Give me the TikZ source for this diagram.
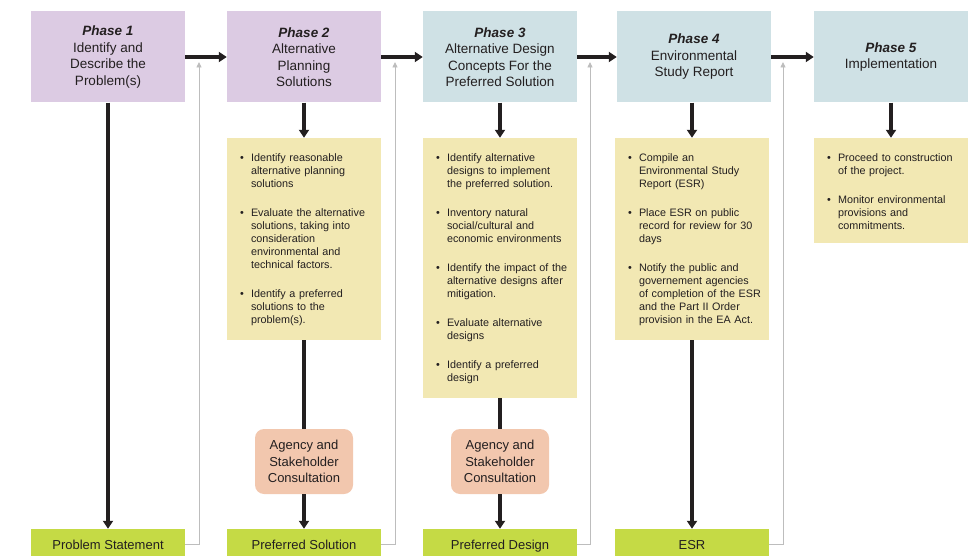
\documentclass[tikz,border=0pt]{standalone}
\usepackage{fontspec}
\setmainfont{Liberation Sans}
\usetikzlibrary{arrows.meta}
\definecolor{phaseLilac}{HTML}{DCCBE3}
\definecolor{phaseBlue}{HTML}{CFE1E5}
\definecolor{noteYellow}{HTML}{F2E8B3}
\definecolor{consultPeach}{HTML}{F2C7AE}
\definecolor{outputGreen}{HTML}{C5DA45}
\definecolor{flowInk}{HTML}{231F20}
\definecolor{loopGrey}{HTML}{BDBDBD}

\newenvironment{phaselist}{%
  \begin{list}{\textbullet}{%
    \setlength{\leftmargin}{12pt}\setlength{\labelsep}{7pt}%
    \setlength{\labelwidth}{5pt}\setlength{\itemsep}{16pt}%
    \setlength{\parsep}{0pt}\setlength{\topsep}{0pt}%
    \setlength{\partopsep}{0pt}\setlength{\itemindent}{0pt}}}%
  {\end{list}}

\tikzset{
  phasebox/.style={minimum width=154pt, minimum height=91pt, inner sep=0pt,
    align=center, text=flowInk, font=\fontsize{13.5}{16.5}\selectfont},
  notebox/.style={fill=noteYellow, minimum width=154pt, inner sep=0pt},
  listtext/.style={anchor=north west, inner sep=0pt, text width=134pt,
    text=flowInk, font=\fontsize{10.8}{13}\selectfont},
  consult/.style={fill=consultPeach, rounded corners=9pt, minimum width=98pt,
    minimum height=65pt, inner sep=0pt, align=center, text=flowInk,
    font=\fontsize{13}{16.5}\selectfont},
  outbox/.style={fill=outputGreen, minimum width=154pt, minimum height=30pt,
    inner sep=0pt, text height=11pt, text depth=1pt, text=flowInk,
    font=\fontsize{13}{15}\selectfont},
  flow/.style={draw=flowInk, line width=3.6pt, -{Triangle[length=8pt,width=10pt]}},
  flowline/.style={draw=flowInk, line width=3.6pt},
  loop/.style={draw=loopGrey, line width=0.9pt, -{Triangle[length=5.5pt,width=5pt]}}
}

\begin{document}
\begin{tikzpicture}[x=1pt,y=-1pt]
  \useasboundingbox (0,0) rectangle (974,556);
  % Phase headers
  \node[phasebox, fill=phaseLilac] (p1) at (108,57)
    {\textbf{\textit{Phase 1}}\\Identify and\\Describe the\\Problem(s)};
  \node[phasebox, fill=phaseLilac] (p2) at (304,57)
    {\textbf{\textit{Phase 2}}\\Alternative\\Planning\\Solutions};
  \node[phasebox, fill=phaseBlue] (p3) at (500,57)
    {\textbf{\textit{Phase 3}}\\Alternative Design\\Concepts For the\\Preferred Solution};
  \node[phasebox, fill=phaseBlue] (p4) at (694,57)
    {\textbf{\textit{Phase 4}}\\Environmental\\Study Report};
  \node[phasebox, fill=phaseBlue] (p5) at (891,57)
    {\textbf{\textit{Phase 5}}\\Implementation};

  % Task notes
  \node[notebox, minimum height=202pt] (n2) at (304,239) {};
  \node[listtext] at ([shift={(12,11)}]n2.north west) {\begin{phaselist}
    \item Identify reasonable\\alternative planning\\solutions
    \item Evaluate the alternative\\solutions, taking into\\consideration\\environmental and\\technical factors.
    \item Identify a preferred\\solutions to the\\problem(s).
  \end{phaselist}};
  \node[notebox, minimum height=260pt] (n3) at (500,268) {};
  \node[listtext] at ([shift={(12,11)}]n3.north west) {\begin{phaselist}
    \item Identify alternative\\designs to implement\\the preferred solution.
    \item Inventory natural\\social/cultural and\\economic environments
    \item Identify the impact of the\\alternative designs after\\mitigation.
    \item Evaluate alternative\\designs
    \item Identify a preferred\\design
  \end{phaselist}};
  \node[notebox, minimum height=202pt] (n4) at (692,239) {};
  \node[listtext] at ([shift={(12,11)}]n4.north west) {\begin{phaselist}
    \item Compile an\\Environmental Study\\Report (ESR)
    \item Place ESR on public\\record for review for 30\\days
    \item Notify the public and\\governement agencies\\of completion of the ESR\\and the Part II Order\\provision in the EA Act.
  \end{phaselist}};
  \node[notebox, minimum height=105pt] (n5) at (891,190.5) {};
  \node[listtext] at ([shift={(12,11)}]n5.north west) {\begin{phaselist}
    \item Proceed to construction\\of the project.
    \item Monitor environmental\\provisions and\\commitments.
  \end{phaselist}};

  % Consultation
  \node[consult] (c2) at (304,461.5) {Agency and\\Stakeholder\\Consultation};
  \node[consult] (c3) at (500,461.5) {Agency and\\Stakeholder\\Consultation};

  % Outputs
  \node[outbox] (o1) at (108,544) {Problem Statement};
  \node[outbox] (o2) at (304,544) {Preferred Solution};
  \node[outbox] (o3) at (500,544) {Preferred Design};
  \node[outbox] (o4) at (692,544) {ESR};

  % Main flow
  \draw[flow] (p1.east |- 0,57) -- (p2.west |- 0,57);
  \draw[flow] (p2.east |- 0,57) -- (p3.west |- 0,57);
  \draw[flow] (p3.east |- 0,57) -- (p4.west |- 0,57);
  \draw[flow] (p4.east |- 0,57) -- (p5.west |- 0,57);
  \draw[flow] (p1.south) -- (o1.north);
  \draw[flow] (p2.south) -- (n2.north);
  \draw[flowline] (n2.south) -- (c2.north);
  \draw[flow] (c2.south) -- (o2.north);
  \draw[flow] (p3.south) -- (n3.north);
  \draw[flowline] (n3.south) -- (c3.north);
  \draw[flow] (c3.south) -- (o3.north);
  \draw[flow] (p4.south -| n4.north) -- (n4.north);
  \draw[flow] (n4.south) -- (o4.north);
  \draw[flow] (p5.south) -- (n5.north);

  % Feedback into next phase
  \coordinate (r1) at (199,62);
  \coordinate (r2) at (395,62);
  \coordinate (r3) at (590,62);
  \coordinate (r4) at (783,62);
  \draw[loop] (o1.east) -| (r1);
  \draw[loop] (o2.east) -| (r2);
  \draw[loop] (o3.east) -| (r3);
  \draw[loop] (o4.east) -| (r4);
\end{tikzpicture}
\end{document}
